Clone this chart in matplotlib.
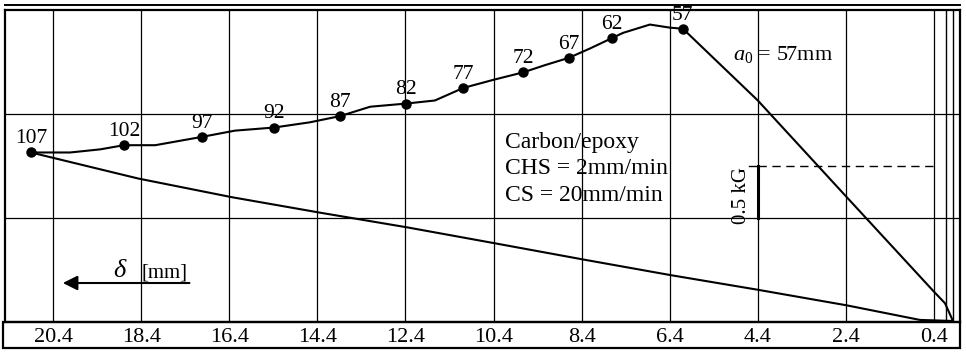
import matplotlib.pyplot as plt
from matplotlib.lines import Line2D
from matplotlib.patches import Rectangle

plt.rcParams['font.family'] = ['Liberation Serif', 'DejaVu Serif']
plt.rcParams['mathtext.fontset'] = 'custom'
plt.rcParams['mathtext.rm'] = 'Liberation Serif'
plt.rcParams['mathtext.it'] = 'Liberation Serif:italic'

# crack length a [mm] marked along the propagation curve
crack_len = [107, 102, 97, 92, 87, 82, 77, 72, 67, 62, 57]
crack_delta = [20.90, 18.79, 17.02, 15.38, 13.88, 12.39, 11.09, 9.73, 8.69, 7.71, 6.10]
crack_load = [1.63, 1.70, 1.78, 1.87, 1.98, 2.10, 2.25, 2.40, 2.54, 2.73, 2.82]

# loading branch, origin -> peak
load_delta = [-0.03, 0.15, 0.42, 2.38, 4.40, 6.10]
load_load = [0.01, 0.18, 0.30, 1.20, 2.13, 2.82]

# crack propagation branch, peak -> a = 107 mm
prop_delta = [6.10, 6.39, 6.85, 7.46, 7.71, 8.21, 8.69, 9.23, 9.73, 10.39, 11.09,
              11.73, 12.39, 13.20, 13.88, 14.57, 15.38, 16.27, 17.02, 18.08,
              18.79, 19.33, 20.01, 20.90]
prop_load = [2.82, 2.83, 2.86, 2.78, 2.73, 2.63, 2.54, 2.47, 2.40, 2.33, 2.25,
             2.13, 2.10, 2.07, 1.98, 1.92, 1.87, 1.84, 1.78, 1.70,
             1.70, 1.66, 1.63, 1.63]

# unloading branch back to origin
unload_delta = [20.90, 18.47, 16.34, 14.32, 12.36, 10.41, 8.35, 6.37, 4.40, 2.38, 0.72, -0.03]
unload_load = [1.63, 1.38, 1.20, 1.05, 0.91, 0.76, 0.60, 0.45, 0.31, 0.16, 0.02, 0.01]

xticks = [20.4, 18.4, 16.4, 14.4, 12.4, 10.4, 8.4, 6.4, 4.4, 2.4, 0.4]
xtick_labels = [f"{v:.1f}" for v in xticks]

W, H = 966, 352
fig = plt.figure(figsize=(W / 100, H / 100), dpi=100)
ax = fig.add_axes([5 / W, 30 / H, 955 / W, 312 / H])

ax.set_xlim(21.49, -0.19)
ax.set_ylim(0, 3)

# grid
ax.set_xticks(xticks)
ax.set_xticklabels(xtick_labels, fontsize=16)
ax.set_yticks([1, 2])
ax.set_yticklabels([])
ax.tick_params(length=0, pad=4)
ax.grid(True, color='black', lw=0.9)
for x in [0.13, -0.03]:
    ax.axvline(x, color='black', lw=1.0)
for s in ax.spines.values():
    s.set_linewidth(1.6)

# curves
ax.plot(load_delta, load_load, color='black', lw=1.5)
ax.plot(prop_delta, prop_load, color='black', lw=1.5)
ax.plot(unload_delta, unload_load, color='black', lw=1.5)
ax.plot(crack_delta, crack_load, 'o', color='black', ms=6.5)
for a, d, p in zip(crack_len, crack_delta, crack_load):
    ax.annotate(str(a), (d, p), xytext=(0, 3), textcoords='offset points',
                ha='center', va='bottom', fontsize=15.5)

# specimen / test info
ax.text(4.96, 2.57, r'$a_0$ = 57mm', fontsize=16, ha='left', va='center')
ax.text(10.14, 1.73, 'Carbon/epoxy', fontsize=17, ha='left', va='center')
ax.text(10.14, 1.48, 'CHS = 2mm/min', fontsize=17, ha='left', va='center')
ax.text(10.14, 1.22, 'CS = 20mm/min', fontsize=17, ha='left', va='center')

# 0.5 kG load scale bar
ax.plot([4.4, 4.4], [1.0, 1.5], color='black', lw=2.2)
ax.plot([4.6, 4.4], [1.5, 1.5], color='black', lw=1.0)
ax.plot([4.4, 0.4], [1.5, 1.5], color='black', lw=1.0, ls=(0, (6, 4)))
ax.text(4.76, 1.22, '0.5 kG', rotation=90, fontsize=15, ha='center', va='center')

# displacement direction arrow
ax.annotate('', xy=(20.24, 0.375), xytext=(17.24, 0.375),
            arrowprops=dict(arrowstyle='-|>', color='black', lw=1.5,
                            mutation_scale=22))
ax.text(18.9, 0.49, 'δ', fontsize=19, style='italic', ha='center', va='center')
ax.text(17.86, 0.47, '[mm]', fontsize=15, ha='center', va='center')

# outer frame around tick strip and doubled top border
fig.add_artist(Rectangle((3 / W, 4 / H), 957 / W, 26 / H, transform=fig.transFigure,
                         fill=False, ec='black', lw=1.6))
fig.add_artist(Line2D([5 / W, 960 / W], [1 - 5 / H, 1 - 5 / H], transform=fig.transFigure,
                      color='black', lw=1.4))

fig.savefig('out.png', dpi=100)
